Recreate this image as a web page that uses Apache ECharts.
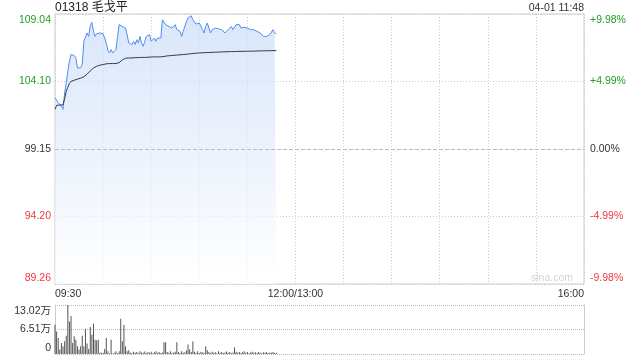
<!DOCTYPE html>
<html><head><meta charset="utf-8">
<script src="https://cdn.jsdelivr.net/npm/echarts@6/dist/echarts.min.js"></script>
<style>html,body{margin:0;padding:0;background:#fff}#c{width:640px;height:360px}</style>
</head><body><div id="c"></div>
<script>
const titleText = '01318 毛戈平';
const stampText = '04-01 11:48';
const prevClose = 99.15;
const priceMin = 89.26, priceMax = 109.04, priceStep = 4.945;
const priceTicks = ['89.26','94.20','99.15','104.10','109.04'];
const pctTicks = ['-9.98%','-4.99%','0.00%','+4.99%','+9.98%'];
const volMax = 130200, volStep = 65100;
const volTicks = ['0','6.51万','13.02万'];
const timeLabels = {0:'09:30',150:'12:00/13:00',330:'16:00'};

// one value per minute from 09:30
const prices = [102.91,102.86,102.54,102.42,102.30,102.05,103.27,104.00,104.85,105.58,
106.07,106.07,105.99,105.82,105.09,105.02,105.09,105.34,107.04,107.16,
107.65,107.40,108.18,108.43,107.77,107.40,107.60,107.65,107.65,107.65,
107.60,107.53,106.92,106.38,106.19,106.43,106.19,106.07,106.43,107.36,
108.26,108.18,108.13,108.13,108.01,107.53,106.92,107.04,106.80,107.04,
106.80,107.16,106.92,107.40,106.92,106.67,107.04,107.40,107.45,107.53,
107.04,106.92,107.28,107.04,107.28,107.16,107.28,108.62,108.67,108.26,
108.13,108.13,108.26,108.01,108.13,108.26,107.89,108.01,107.77,107.40,
107.77,107.89,108.50,108.74,108.86,108.91,108.62,108.50,108.30,108.38,
108.38,108.26,107.89,107.65,108.13,108.38,108.38,107.65,107.89,107.77,
108.01,107.89,107.95,108.01,107.89,108.01,107.65,107.77,107.89,108.01,
108.13,107.89,108.01,108.26,108.13,108.26,108.01,108.13,108.07,108.01,
108.01,108.13,107.89,108.01,107.89,108.01,107.77,107.89,107.65,107.77,
107.40,107.42,107.40,107.45,107.53,107.65,107.89,107.65,107.58];

const avgPrices = [102.05,102.35,102.42,102.37,102.30,102.39,102.83,103.39,103.68,103.95,
104.10,104.15,104.19,104.24,104.27,104.29,104.34,104.39,104.44,104.54,
104.63,104.75,104.87,104.97,105.09,105.17,105.21,105.26,105.29,105.31,
105.34,105.36,105.39,105.41,105.41,105.41,105.41,105.41,105.41,105.42,
105.48,105.58,105.68,105.75,105.80,105.82,105.82,105.82,105.82,105.83,
105.84,105.85,105.85,105.85,105.86,105.86,105.86,105.87,105.87,105.87,
105.89,105.90,105.90,105.90,105.90,105.90,105.90,105.91,105.93,105.95,
105.97,105.98,105.99,106.00,106.01,106.02,106.03,106.04,106.05,106.06,
106.07,106.08,106.09,106.10,106.12,106.13,106.15,106.16,106.17,106.18,
106.19,106.19,106.20,106.20,106.21,106.21,106.22,106.22,106.23,106.23,
106.24,106.24,106.25,106.25,106.26,106.26,106.27,106.27,106.28,106.28,
106.29,106.29,106.29,106.30,106.30,106.30,106.30,106.31,106.31,106.31,
106.31,106.31,106.32,106.32,106.32,106.33,106.33,106.33,106.34,106.34,
106.34,106.34,106.35,106.35,106.35,106.35,106.36,106.36,106.36];

const volumes = [77600,60000,42500,11800,29400,20600,33800,48700,130200,86400,
101300,29400,46900,38100,20600,11800,20600,48700,20600,67100,
27600,13600,71500,51300,80200,38100,36400,38100,3000,3000,
3000,13600,42500,7500,1300,38100,1300,3000,7500,2000,
7500,93400,33800,77600,20600,7500,10000,4000,2500,6000,
3000,5000,2000,7000,4000,3000,6500,2500,5000,3500,
6000,2000,4500,7000,3000,5500,2500,4000,31000,31000,
5000,3000,7500,2500,4000,6000,31000,5000,2500,7000,
3500,4500,9000,25000,12000,5000,33000,6000,3000,7000,
2500,5000,4000,3000,20600,10000,5000,2500,6000,3500,
4500,2000,7000,3000,5000,2500,4000,6500,3000,5000,
2500,4000,18000,6000,3500,5000,2500,4500,7000,3000,
5000,2000,4000,6000,3000,4500,2500,5000,3500,2000,
4500,3000,5500,2500,4000,3000,5000,2500,3000];

const GREEN = '#1f9e1f', RED = '#f23a3a', DARK = '#333333';
const FONT = '"Liberation Sans", Arial, "Noto Sans CJK SC", sans-serif';
const labelColors = [RED, RED, DARK, GREEN, GREEN];

function tickIndex(v){ return Math.round((v - priceMin) / priceStep); }
function richFor(i, last, s){
  const key = (i === last ? 't' : (i === 0 ? 'b' : 'm')) + labelColors[i].replace('#','');
  return '{' + key + '|' + s + '}';
}
function buildRich(colors){
  const r = {};
  colors.forEach(c => {
    const k = c.replace('#','');
    r['t'+k] = {color:c, padding:[12,0,0,0], fontSize:10.5, fontFamily:FONT};
    r['b'+k] = {color:c, padding:[0,0,12,0], fontSize:10.5, fontFamily:FONT};
    r['m'+k] = {color:c, fontSize:10.5, fontFamily:FONT};
  });
  return r;
}
const rich = buildRich([GREEN, RED, DARK]);

const chart = echarts.init(document.getElementById('c'), null, {renderer:'canvas'});
chart.setOption({
  animation:false,
  textStyle:{fontFamily:FONT},
  title:[
    {text:titleText, left:55, top:2, padding:0, textStyle:{fontSize:12, fontWeight:'normal', color:'#222', fontFamily:FONT}},
    {text:stampText, right:56, top:3, padding:0, textStyle:{fontSize:10.5, fontWeight:'normal', color:'#333', fontFamily:FONT}}
  ],
  graphic:[{type:'text', right:67, top:273, silent:true, style:{text:'sina.com', fill:'#d4d4d4', font:'10.5px ' + FONT}}],
  grid:[
    {left:55, right:56, top:14, bottom:76, show:true, borderColor:'#cccccc', borderWidth:1, backgroundColor:'transparent'},
    {left:55, right:56, top:305, bottom:6}
  ],
  xAxis:[
    {type:'value', gridIndex:0, min:0, max:330, interval:30,
     axisLine:{show:false}, axisTick:{show:false},
     splitLine:{show:true, lineStyle:{color:'#cccccc', type:[1,2], width:1}},
     axisLabel:{show:true, margin:5, fontSize:10.5, color:'#333', fontFamily:FONT,
       showMinLabel:true, showMaxLabel:true, alignMinLabel:'left', alignMaxLabel:'right',
       formatter:v => timeLabels[Math.round(v)] || ''}},
    {type:'value', gridIndex:1, min:0, max:330, interval:30,
     axisLine:{show:false}, axisTick:{show:false}, splitLine:{show:false}, axisLabel:{show:false}}
  ],
  yAxis:[
    {type:'value', gridIndex:0, min:priceMin, max:priceMax, interval:priceStep,
     axisLine:{show:false}, axisTick:{show:false},
     splitLine:{show:true, lineStyle:{color:'#cccccc', type:[1,2], width:1}},
     axisLabel:{margin:4, rich:rich, formatter:v => { const i = tickIndex(v); return richFor(i, 4, priceTicks[i]); }}},
    {type:'value', gridIndex:0, position:'right', min:priceMin, max:priceMax, interval:priceStep,
     axisLine:{show:false}, axisTick:{show:false}, splitLine:{show:false},
     axisLabel:{margin:6, rich:rich, formatter:v => { const i = tickIndex(v); return richFor(i, 4, pctTicks[i]); }}},
    {type:'value', gridIndex:1, min:0, max:volMax, interval:volStep,
     axisLine:{show:true, lineStyle:{color:'#cccccc'}}, axisTick:{show:false},
     splitLine:{show:true, lineStyle:{color:'#bbbbbb', type:[1,1], width:1}},
     axisLabel:{margin:4, rich:{
        t:{color:DARK, padding:[12,0,0,0], fontSize:10.5, fontFamily:FONT},
        b:{color:DARK, padding:[0,0,12,0], fontSize:10.5, fontFamily:FONT},
        m:{color:DARK, fontSize:10.5, fontFamily:FONT}},
       formatter:v => { const i = Math.round(v / volStep); const k = i === 2 ? 't' : (i === 0 ? 'b' : 'm'); return '{' + k + '|' + volTicks[i] + '}'; }}},
    {type:'value', gridIndex:1, position:'right', min:0, max:volMax, interval:volStep,
     axisLine:{show:true, lineStyle:{color:'#cccccc'}}, axisTick:{show:false},
     splitLine:{show:false}, axisLabel:{show:false}}
  ],
  series:[
    {type:'line', xAxisIndex:0, yAxisIndex:0, symbol:'none', silent:true,
     data:prices.map((p,i)=>[i,p]),
     lineStyle:{color:'#4f8ef2', width:1},
     areaStyle:{origin:'start', color:new echarts.graphic.LinearGradient(0,0,0,1,[
       {offset:0, color:'#c8daf7'}, {offset:1, color:'#ffffff'}])},
     markLine:{silent:true, symbol:'none', label:{show:false},
       lineStyle:{color:'#bbbbbb', type:[4,2], width:1},
       data:[{yAxis:prevClose}]},
     z:3},
    {type:'line', xAxisIndex:0, yAxisIndex:0, symbol:'none', silent:true,
     data:avgPrices.map((p,i)=>[i,p]),
     lineStyle:{color:'#2f3a4c', width:1}, z:4},
    {type:'bar', xAxisIndex:1, yAxisIndex:2, silent:true, barWidth:1,
     data:volumes.map((v,i)=>[i,v]),
     itemStyle:{color:'#555555'}}
  ]
});
</script></body></html>
